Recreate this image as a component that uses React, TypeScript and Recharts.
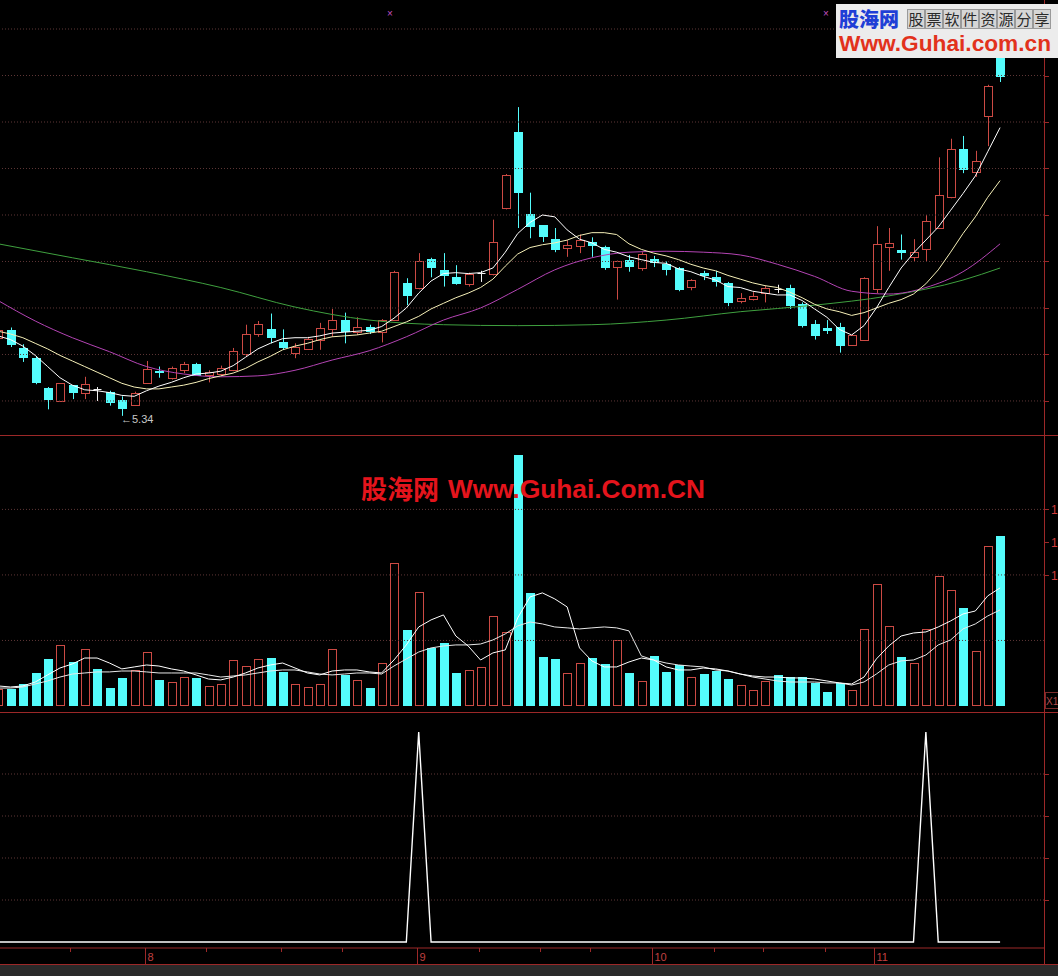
import React from 'react';
import { ComposedChart, Bar, Line, XAxis, YAxis, ReferenceLine } from 'recharts';

// daily prices, oldest first (the first session sits partly off the left edge)
const opens = [
  6.18, 6.26, 6.07, 5.96, 5.64, 5.50, 5.67, 5.59, 5.63, 5.60,
  5.51, 5.46, 5.69, 5.82, 5.75, 5.83, 5.90, 5.78, 5.79, 5.83,
  6.01, 6.22, 6.27, 6.13, 6.02, 6.06, 6.16, 6.27, 6.37, 6.24,
  6.30, 6.24, 6.37, 6.77, 6.72, 7.03, 6.91, 6.83, 6.76, 6.88,
  6.87, 7.58, 8.39, 7.51, 7.39, 7.24, 7.15, 7.17, 7.21, 7.16,
  6.94, 7.02, 6.93, 7.03, 6.97, 6.93, 6.73, 6.88, 6.83, 6.77,
  6.58, 6.60, 6.66, 6.70, 6.71, 6.54, 6.33, 6.29, 6.30, 6.10,
  6.16, 6.70, 7.16, 7.12, 7.05, 7.13, 7.36, 7.69, 8.21, 7.96,
  8.56, 9.33,
];
const highs = [
  6.30, 6.29, 6.11, 5.98, 5.65, 5.69, 5.67, 5.76, 5.65, 5.61,
  5.55, 5.60, 5.93, 5.87, 5.87, 5.92, 5.91, 5.83, 5.88, 6.07,
  6.32, 6.36, 6.44, 6.27, 6.12, 6.19, 6.34, 6.49, 6.45, 6.40,
  6.32, 6.38, 6.90, 6.82, 7.09, 7.04, 7.09, 6.96, 6.88, 6.90,
  7.45, 7.94, 8.66, 7.74, 7.39, 7.36, 7.23, 7.29, 7.26, 7.17,
  7.01, 7.07, 7.10, 7.06, 7.00, 6.94, 6.81, 6.90, 6.90, 6.78,
  6.66, 6.67, 6.74, 6.75, 6.75, 6.56, 6.37, 6.37, 6.34, 6.22,
  6.83, 7.38, 7.36, 7.29, 7.24, 7.50, 8.12, 8.32, 8.35, 8.19,
  8.90, 9.38,
];
const lows = [
  6.16, 6.08, 5.92, 5.68, 5.41, 5.49, 5.52, 5.52, 5.50, 5.45,
  5.34, 5.45, 5.69, 5.75, 5.73, 5.80, 5.77, 5.70, 5.77, 5.82,
  5.98, 6.19, 6.12, 6.05, 5.96, 6.05, 6.05, 6.19, 6.12, 6.21,
  6.22, 6.13, 6.36, 6.53, 6.70, 6.83, 6.73, 6.75, 6.73, 6.78,
  6.85, 7.56, 7.36, 7.25, 7.21, 7.10, 7.05, 7.09, 7.05, 6.91,
  6.59, 6.89, 6.90, 6.94, 6.85, 6.68, 6.69, 6.80, 6.73, 6.52,
  6.55, 6.58, 6.56, 6.66, 6.49, 6.29, 6.16, 6.22, 6.02, 6.10,
  6.15, 6.66, 6.90, 7.02, 7.00, 7.00, 7.35, 7.68, 7.95, 7.91,
  8.24, 8.93,
];
const closes = [
  6.26, 6.10, 5.96, 5.69, 5.51, 5.69, 5.59, 5.68, 5.63, 5.48,
  5.41, 5.59, 5.84, 5.80, 5.85, 5.90, 5.77, 5.81, 5.85, 6.04,
  6.22, 6.33, 6.18, 6.07, 6.08, 6.17, 6.29, 6.37, 6.24, 6.30,
  6.24, 6.37, 6.89, 6.63, 7.01, 6.93, 6.84, 6.76, 6.87, 6.88,
  7.21, 7.93, 7.74, 7.37, 7.26, 7.12, 7.18, 7.23, 7.17, 6.93,
  7.00, 6.94, 7.08, 6.98, 6.91, 6.69, 6.80, 6.84, 6.78, 6.55,
  6.61, 6.63, 6.72, 6.70, 6.52, 6.31, 6.20, 6.25, 6.09, 6.21,
  6.82, 7.19, 7.20, 7.09, 7.10, 7.44, 7.72, 8.21, 7.98, 8.08,
  8.89, 8.98,
];
const ma5 = [
  6.20, 6.16, 6.09, 5.99, 5.87, 5.75, 5.67, 5.62, 5.61, 5.59,
  5.56, 5.55, 5.61, 5.66, 5.70, 5.75, 5.79, 5.80, 5.82, 5.88,
  5.97, 6.06, 6.12, 6.17, 6.18, 6.18, 6.20, 6.23, 6.24, 6.25,
  6.26, 6.30, 6.39, 6.50, 6.66, 6.79, 6.87, 6.88, 6.87, 6.88,
  6.93, 7.10, 7.30, 7.42, 7.50, 7.48, 7.34, 7.24, 7.20, 7.13,
  7.10, 7.05, 7.02, 6.99, 6.98, 6.92, 6.89, 6.84, 6.80, 6.73,
  6.72, 6.68, 6.66, 6.64, 6.64, 6.58, 6.49, 6.40, 6.27, 6.21,
  6.31, 6.50, 6.72, 6.93, 7.09, 7.23, 7.37, 7.55, 7.73, 7.92,
  8.18, 8.44,
];
const ma10 = [
  6.25, 6.22, 6.18, 6.12, 6.06, 5.99, 5.93, 5.87, 5.81, 5.75,
  5.69, 5.65, 5.63, 5.63, 5.65, 5.67, 5.70, 5.74, 5.77, 5.80,
  5.85, 5.92, 5.98, 6.05, 6.09, 6.12, 6.16, 6.19, 6.20, 6.21,
  6.23, 6.25, 6.30, 6.35, 6.41, 6.49, 6.55, 6.61, 6.66, 6.72,
  6.81, 6.95, 7.08, 7.15, 7.18, 7.20, 7.23, 7.28, 7.31, 7.31,
  7.29, 7.19, 7.13, 7.09, 7.06, 7.02, 6.97, 6.93, 6.90, 6.85,
  6.81, 6.77, 6.74, 6.72, 6.67, 6.61, 6.54, 6.49, 6.46, 6.42,
  6.45, 6.50, 6.55, 6.59, 6.65, 6.76, 6.91, 7.10, 7.30, 7.48,
  7.69, 7.87,
];
// slower averages, sampled every few sessions
const ma20Days = [0, 3, 6, 9, 12, 15, 18, 21, 24, 27, 30, 33, 36, 39, 42, 45, 48, 51, 54, 57, 60, 63, 66, 69, 72, 75, 78, 81];
const ma20 = [6.58, 6.36, 6.18, 6.03, 5.87, 5.79, 5.76, 5.77, 5.83, 5.94, 6.04, 6.19, 6.37, 6.50, 6.70, 6.91, 7.04, 7.10, 7.11, 7.10, 7.07, 6.97, 6.84, 6.68, 6.65, 6.72, 6.89, 7.19];
const ma60Days = [0, 6, 12, 18, 24, 30, 36, 42, 48, 54, 60, 66, 72, 78, 81];
const ma60 = [7.19, 7.04, 6.89, 6.72, 6.51, 6.37, 6.32, 6.31, 6.32, 6.37, 6.46, 6.53, 6.63, 6.80, 6.93];

const volumes = [
  1300, 1300, 1680, 2520, 3590, 4660, 3360, 4350, 2830, 1370,
  2140, 2750, 4120, 1990, 1830, 2210, 2140, 1530, 1680, 3510,
  3050, 3590, 3660, 2600, 1680, 1450, 1680, 4350, 2370, 1990,
  1370, 3280, 10920, 5800, 8700, 4430, 4810, 2520, 2750, 2980,
  6870, 5650, 19160, 8630, 3740, 3590, 2520, 3280, 3660, 3210,
  5040, 2520, 1910, 3820, 2600, 3130, 2210, 2440, 2670, 2060,
  1600, 1220, 1910, 2370, 2210, 2210, 1760, 1070, 1760, 1220,
  5880, 9310, 6110, 3740, 3280, 5880, 9920, 8860, 7480, 4200,
  12210, 12980,
];
const volMa5 = [
  1530, 1450, 1530, 1830, 2370, 2900, 3210, 3660, 3660, 3280,
  2830, 2980, 3130, 3050, 2830, 2670, 2370, 2060, 1990, 2210,
  2520, 2900, 3130, 3280, 2900, 2520, 2370, 2670, 2750, 2750,
  2600, 2520, 3510, 4660, 6030, 6570, 6950, 5340, 4580, 3510,
  4050, 4280, 6720, 8320, 8630, 8170, 7560, 4430, 3440, 2980,
  2980, 3360, 3660, 3510, 2980, 2750, 2750, 2900, 2830, 2670,
  2440, 2290, 2210, 2210, 2140, 2140, 2060, 1910, 1760, 1680,
  2210, 3590, 4580, 5340, 5570, 5650, 6030, 6490, 7020, 7250,
  8400, 9010,
];
const volMa10 = [
  1370, 1370, 1450, 1680, 1910, 2210, 2440, 2520, 2600, 2600,
  2670, 2670, 2600, 2520, 2520, 2520, 2520, 2370, 2210, 2290,
  2370, 2520, 2670, 2750, 2750, 2600, 2440, 2370, 2440, 2520,
  2520, 2440, 3050, 3590, 4120, 4430, 4580, 4660, 4660, 4730,
  5040, 5500, 6110, 6410, 6260, 6030, 5960, 5880, 5960, 6030,
  5960, 5730, 3820, 3510, 3280, 3130, 3050, 2980, 2750, 2670,
  2440, 2210, 2060, 1910, 1830, 1830, 1830, 1760, 1760, 1600,
  1830, 2440, 3130, 3440, 3510, 3890, 4660, 5040, 5880, 6260,
  6870, 7330,
];
// buy-signal indicator (0 = off, 100 = fired)
const signal = [
  0, 0, 0, 0, 0, 0, 0, 0, 0, 0,
  0, 0, 0, 0, 0, 0, 0, 0, 0, 0,
  0, 0, 0, 0, 0, 0, 0, 0, 0, 0,
  0, 0, 0, 0, 100, 0, 0, 0, 0, 0,
  0, 0, 0, 0, 0, 0, 0, 0, 0, 0,
  0, 0, 0, 0, 0, 0, 0, 0, 0, 0,
  0, 0, 0, 0, 0, 0, 0, 0, 0, 0,
  0, 0, 0, 0, 0, 100, 0, 0, 0, 0,
  0, 0,
];

const monthTicks = [12, 34, 53, 71];
const monthLabels = ['8', '9', '10', '11'];
const weekTicks = [6, 17, 23, 28, 39, 44, 48, 58, 62, 67];
const priceGrid = [5.5, 6, 6.5, 7, 7.5, 8, 8.5, 9, 9.5];
const volumeGrid = [5000, 10000, 15000];
const volumeMarks = [10000, 12500, 15000];
const signalGrid = [20, 40, 60, 80];

const FRAME = '#9c2828';
const GRID = '#5e3636';
const UP = '#cc4a44';
const DOWN = '#54fcfc';
const DOJI = '#f2f2f2';
const SANS = "'Liberation Sans', Arial, sans-serif";
const CJK = "'Noto Sans CJK SC', sans-serif";

const X_DOMAIN: [number, number] = [0.151, 84.55];
const PRICE_DOMAIN: [number, number] = [5.134, 9.812];
const VOL_DOMAIN: [number, number] = [0, 20600];
const SIGNAL_DOMAIN: [number, number] = [-2.857, 109.05];
const NO_MARGIN = { top: 0, right: 0, bottom: 0, left: 0 };

const rows = opens.map((open, day) => {
  const close = closes[day];
  const prev = day > 0 ? closes[day - 1] : open;
  return {
    day,
    open,
    high: highs[day],
    low: lows[day],
    close,
    ma5: ma5[day],
    ma10: ma10[day],
    volume: volumes[day],
    volMa5: volMa5[day],
    volMa10: volMa10[day],
    signal: signal[day],
    rising: close > open || (close === open && close >= prev),
  };
});
const ma20Rows = ma20Days.map((day, k) => ({ day, value: ma20[k] }));
const ma60Rows = ma60Days.map((day, k) => ({ day, value: ma60[k] }));
const lowest = Math.min(...lows);

function Candle(props: any) {
  const { x, y, width, height, payload } = props;
  if (!payload) return null;
  const { open, high, low, close } = payload;
  const top = Math.min(y, y + height);
  const span = Math.abs(height);
  const toY = (v: number) => (high === low ? top : top + ((high - v) / (high - low)) * span);
  const cx = Math.round(x + width / 2) + 0.5;
  const yl = top + span;
  const label =
    low === lowest ? (
      <text x={cx - 1.5} y={yl + 7.5} fill="#c8c8c8" fontSize={11} fontFamily={SANS}>
        {'←' + low.toFixed(2)}
      </text>
    ) : null;

  if (open === close) {
    const yd = Math.round(toY(open)) + 0.5;
    return (
      <g>
        <line x1={cx} x2={cx} y1={top} y2={yl} stroke={DOJI} />
        <line x1={cx - 4} x2={cx + 4} y1={yd} y2={yd} stroke={DOJI} />
        {label}
      </g>
    );
  }
  if (close > open) {
    const bt = Math.round(toY(close)) + 0.5;
    const bb = Math.round(toY(open)) + 0.5;
    return (
      <g>
        <line x1={cx} x2={cx} y1={top} y2={bt} stroke={UP} />
        <line x1={cx} x2={cx} y1={bb} y2={yl} stroke={UP} />
        <rect x={cx - 4} y={bt} width={8} height={Math.max(bb - bt, 1)} fill="#000" stroke={UP} />
        {label}
      </g>
    );
  }
  const bt = Math.round(toY(open));
  const bb = Math.round(toY(close));
  return (
    <g>
      <line x1={cx} x2={cx} y1={top} y2={yl} stroke={DOWN} />
      <rect x={cx - 4.5} y={bt} width={9} height={Math.max(bb - bt, 1)} fill={DOWN} />
      {label}
    </g>
  );
}

function VolumeBar(props: any) {
  const { x, y, width, height, payload } = props;
  if (!payload || !height) return null;
  const cx = Math.round(x + width / 2) + 0.5;
  const top = Math.round(y);
  const h = Math.round(height);
  if (payload.rising) {
    return <rect x={cx - 4} y={top + 0.5} width={8} height={h - 1} fill="#000" stroke={UP} />;
  }
  return <rect x={cx - 4.5} y={top} width={9} height={h} fill={DOWN} />;
}

const EdgeTick = (props: any) => {
  const { x, y } = props;
  const yy = Math.round(y) + 0.5;
  return <line x1={x} x2={x + 5} y1={yy} y2={yy} stroke={FRAME} />;
};

// the volume scale is read in units of 10 000 (only the leading figure fits)
const VolumeTick = (props: any) => {
  const { x, y, payload } = props;
  const yy = Math.round(y) + 0.5;
  return (
    <g>
      <line x1={x} x2={x + 5} y1={yy} y2={yy} stroke={FRAME} />
      <text x={x + 7} y={yy + 4} fontSize={12} fill="#d03a3a" fontFamily={SANS}>
        {Math.floor(payload.value / 10000)}
      </text>
    </g>
  );
};

const DateTick = (props: any) => {
  const { x, y, payload } = props;
  const k = monthTicks.indexOf(payload.value);
  const xx = Math.round(x) - 1.5;
  if (k < 0) return <line x1={xx} x2={xx} y1={y} y2={y + 4} stroke={FRAME} />;
  return (
    <g>
      <line x1={xx} x2={xx} y1={y} y2={y + 16} stroke={FRAME} />
      <text x={xx + 2} y={y + 13} fontSize={11} fill="#c04040" fontFamily={SANS}>
        {monthLabels[k]}
      </text>
    </g>
  );
};

const hiddenX = (
  <XAxis dataKey="day" type="number" domain={X_DOMAIN} allowDataOverflow ticks={monthTicks} hide />
);

const PriceChart = () => (
  <ComposedChart width={1058} height={435} data={rows} margin={NO_MARGIN}>
    {hiddenX}
    <YAxis
      orientation="right"
      width={14}
      type="number"
      domain={PRICE_DOMAIN}
      allowDataOverflow
      ticks={priceGrid}
      interval={0}
      tick={<EdgeTick />}
      tickLine={false}
      tickSize={0}
      tickMargin={0}
      axisLine={false}
    />
    {priceGrid.map((v) => (
      <ReferenceLine key={v} y={v} stroke={GRID} strokeDasharray="1 2" />
    ))}
    <Line data={ma60Rows} dataKey="value" type="monotone" stroke="#3fa03f" strokeWidth={1} dot={false} activeDot={false} isAnimationActive={false} />
    <Line data={ma20Rows} dataKey="value" type="monotone" stroke="#b444b4" strokeWidth={1} dot={false} activeDot={false} isAnimationActive={false} />
    <Bar dataKey={(d: any) => [d.low, d.high]} barSize={9} shape={(p: any) => <Candle {...p} />} activeBar={false} isAnimationActive={false} />
    <Line dataKey="ma10" type="linear" stroke="#f6f0b8" strokeWidth={1} dot={false} activeDot={false} isAnimationActive={false} />
    <Line dataKey="ma5" type="linear" stroke="#ffffff" strokeWidth={1} dot={false} activeDot={false} isAnimationActive={false} />
  </ComposedChart>
);

const VolumeChart = () => (
  <ComposedChart width={1058} height={270} data={rows} margin={NO_MARGIN}>
    {hiddenX}
    <YAxis
      orientation="right"
      width={14}
      type="number"
      domain={VOL_DOMAIN}
      allowDataOverflow
      ticks={volumeMarks}
      interval={0}
      tick={<VolumeTick />}
      tickLine={false}
      tickSize={0}
      tickMargin={0}
      axisLine={false}
    />
    {volumeGrid.map((v) => (
      <ReferenceLine key={v} y={v} stroke={GRID} strokeDasharray="1 2" />
    ))}
    <Bar dataKey="volume" barSize={9} shape={(p: any) => <VolumeBar {...p} />} activeBar={false} isAnimationActive={false} />
    <Line dataKey="volMa10" type="linear" stroke="#e8e8e8" strokeWidth={1} dot={false} activeDot={false} isAnimationActive={false} />
    <Line dataKey="volMa5" type="linear" stroke="#ffffff" strokeWidth={1} dot={false} activeDot={false} isAnimationActive={false} />
  </ComposedChart>
);

const SignalChart = () => (
  <ComposedChart width={1058} height={252} data={rows} margin={NO_MARGIN}>
    <XAxis
      dataKey="day"
      type="number"
      domain={X_DOMAIN}
      allowDataOverflow
      ticks={[...monthTicks, ...weekTicks]}
      interval={0}
      tick={<DateTick />}
      tickLine={false}
      tickSize={0}
      tickMargin={0}
      height={17}
      axisLine={{ stroke: FRAME }}
    />
    <YAxis
      orientation="right"
      width={14}
      type="number"
      domain={SIGNAL_DOMAIN}
      allowDataOverflow
      ticks={signalGrid}
      interval={0}
      tick={<EdgeTick />}
      tickLine={false}
      tickSize={0}
      tickMargin={0}
      axisLine={false}
    />
    {signalGrid.map((v) => (
      <ReferenceLine key={v} y={v} stroke={GRID} strokeDasharray="1 2" />
    ))}
    <Line dataKey="signal" type="linear" stroke="#ffffff" strokeWidth={1.4} dot={false} activeDot={false} isAnimationActive={false} />
  </ComposedChart>
);

const rule = (top: number): React.CSSProperties => ({
  position: 'absolute',
  left: 0,
  top,
  width: 1058,
  height: 1,
  background: FRAME,
});

export default function App() {
  const tagline = '股票软件资源分享'.split('');
  return (
    <div
      style={{
        position: 'absolute',
        left: 0,
        top: 0,
        width: 1058,
        height: 976,
        background: '#000',
        overflow: 'hidden',
        fontFamily: SANS,
      }}
    >
      <div style={{ position: 'absolute', left: 0, top: 0 }}>
        <PriceChart />
      </div>
      <div style={{ position: 'absolute', left: 0, top: 436 }}>
        <VolumeChart />
      </div>
      <div style={{ position: 'absolute', left: 0, top: 713 }}>
        <SignalChart />
      </div>

      <div style={rule(435)} />
      <div style={rule(712)} />
      <div style={rule(964)} />
      <div style={{ position: 'absolute', left: 1044, top: 0, width: 1, height: 965, background: FRAME }} />
      <div style={{ position: 'absolute', left: 0, top: 965, width: 1058, height: 11, background: '#2a2a2a' }} />

      <svg width={1058} height={976} style={{ position: 'absolute', left: 0, top: 0, pointerEvents: 'none' }}>
        <text x={390} y={17} fontSize={10} fill="#c050c0" textAnchor="middle" fontFamily={SANS}>×</text>
        <text x={826} y={17} fontSize={10} fill="#c050c0" textAnchor="middle" fontFamily={SANS}>×</text>

        {/* site watermark across the volume pane */}
        <text x={361} y={499} fontSize={26} fontWeight={700} fill="#e4141c" fontFamily={CJK}>股海网</text>
        <text
          x={448}
          y={498}
          fontSize={26}
          fontWeight={700}
          fill="#e4141c"
          fontFamily={SANS}
          textLength={257}
          lengthAdjust="spacingAndGlyphs"
        >
          Www.Guhai.Com.CN
        </text>

        {/* site badge, top right */}
        <rect x={836} y={4} width={222} height={54} fill="#ececec" />
        <text x={839} y={27} fontSize={20} fontWeight={900} fill="#1f3fd6" fontFamily={CJK}>股海网</text>
        {tagline.map((ch, k) => (
          <g key={k}>
            <rect x={907.5 + k * 18} y={9.5} width={17} height={19} fill="#d6d6d6" stroke="#9a9a9a" />
            <text x={916 + k * 18} y={25} fontSize={15} fill="#2a2a2a" textAnchor="middle" fontFamily={CJK}>
              {ch}
            </text>
          </g>
        ))}
        <text
          x={839}
          y={51}
          fontSize={22}
          fontWeight={700}
          fill="#e2321c"
          fontFamily={SANS}
          textLength={212}
          lengthAdjust="spacingAndGlyphs"
        >
          Www.Guhai.com.cn
        </text>

        <rect x={1045.5} y={692.5} width={14} height={16} fill="#000" stroke="#7a2a2a" />
        <text x={1046} y={705} fontSize={10} fill="#b04848" fontFamily={SANS}>X1</text>
      </svg>
    </div>
  );
}
